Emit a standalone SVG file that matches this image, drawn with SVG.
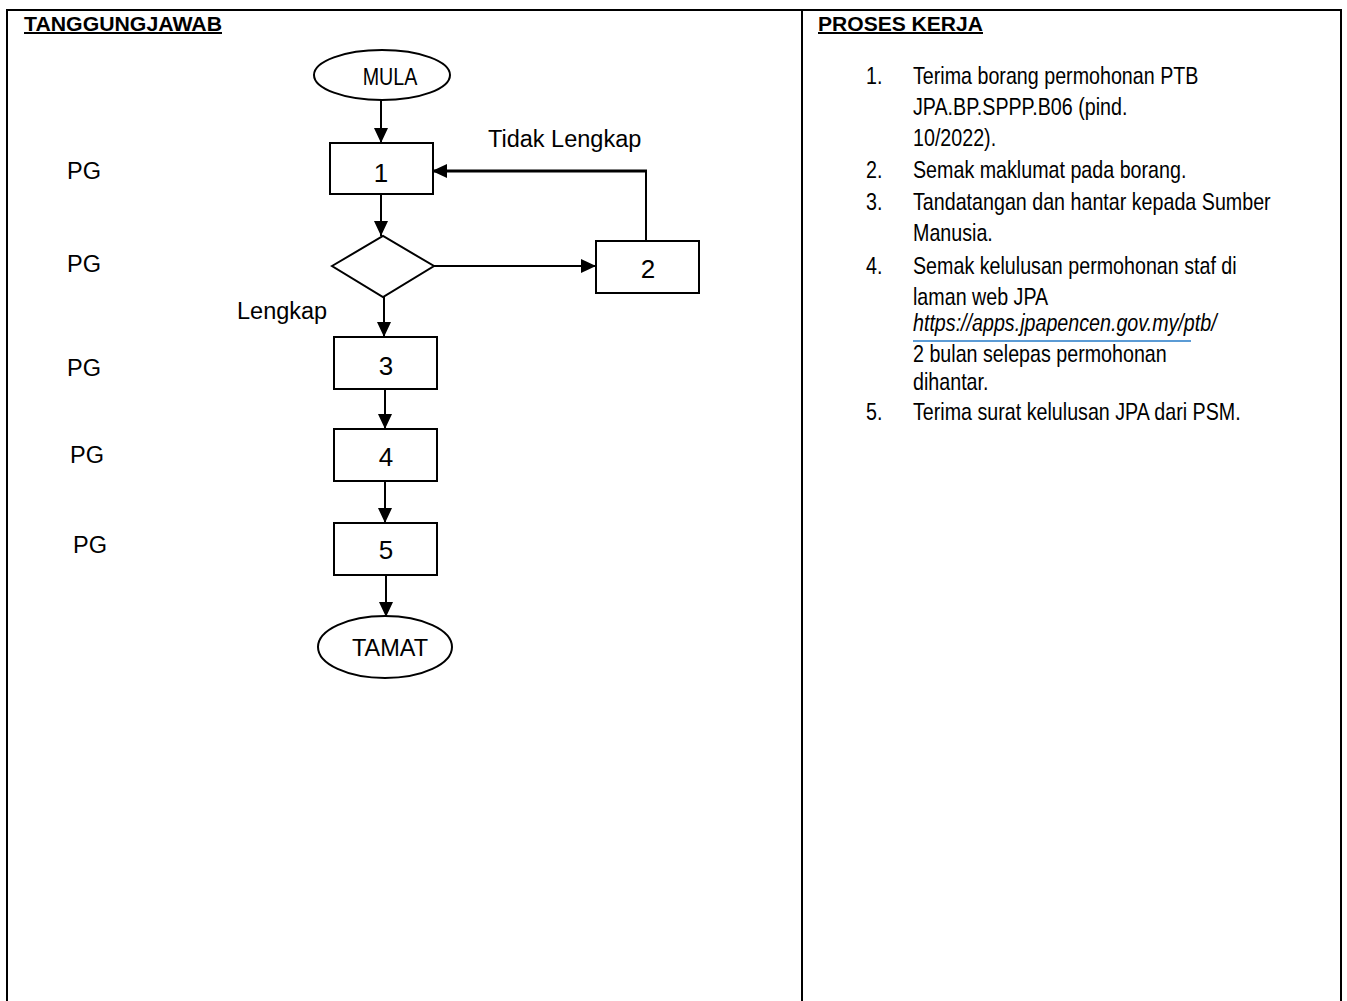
<svg xmlns="http://www.w3.org/2000/svg" width="1347" height="1001" viewBox="0 0 1347 1001">
<style>
  .frame{stroke:#000;stroke-width:2;fill:none}
  .shape{stroke:#000;stroke-width:2;fill:#fff}
  .conn{stroke:#000;stroke-width:2;fill:none}
  .hdr{font-family:"Liberation Sans",Arial,sans-serif;font-weight:bold;font-size:20px;text-decoration:underline;fill:#000}
  .lbl{font-family:"Liberation Sans",Arial,sans-serif;font-size:23.5px;fill:#000}
  .num{font-family:"Liberation Sans",Arial,sans-serif;font-size:26px;fill:#000;text-anchor:middle}
  .narrow{font-family:"Liberation Sans Narrow","Arial Narrow","Liberation Sans",sans-serif;font-size:24px;fill:#000}
  .it{font-style:italic}
</style>
<defs>
  <marker id="ah" markerUnits="userSpaceOnUse" markerWidth="15" markerHeight="14" refX="15" refY="7" orient="auto">
    <path d="M0,0 L15,7 L0,14 z" fill="#000"/>
  </marker>
</defs>
<rect x="0" y="0" width="1347" height="1001" fill="#fff"/>
<g id="table">
  <line class="frame" x1="6" y1="10" x2="1342" y2="10"/>
  <line class="frame" x1="7" y1="10" x2="7" y2="1001"/>
  <line class="frame" x1="802" y1="10" x2="802" y2="1001"/>
  <line class="frame" x1="1341" y1="10" x2="1341" y2="1001"/>
  <text class="hdr" x="24" y="31" textLength="198" lengthAdjust="spacingAndGlyphs">TANGGUNGJAWAB</text>
  <text class="hdr" x="818" y="31" textLength="165" lengthAdjust="spacingAndGlyphs">PROSES KERJA</text>
</g>
<g id="roles">
  <text class="lbl" x="67" y="179">PG</text>
  <text class="lbl" x="67" y="272">PG</text>
  <text class="lbl" x="67" y="376">PG</text>
  <text class="lbl" x="70" y="463">PG</text>
  <text class="lbl" x="73" y="553">PG</text>
</g>
<g id="connectors">
  <line class="conn" x1="381" y1="100" x2="381" y2="143" marker-end="url(#ah)"/>
  <line class="conn" x1="381" y1="194" x2="381" y2="236" marker-end="url(#ah)"/>
  <line class="conn" x1="434" y1="266" x2="596" y2="266" marker-end="url(#ah)"/>
  <path class="conn" d="M646,241 V171"/>
  <line x1="647" y1="171" x2="432" y2="171" stroke="#000" stroke-width="3" marker-end="url(#ah)"/>
  <line class="conn" x1="384" y1="297" x2="384" y2="337" marker-end="url(#ah)"/>
  <line class="conn" x1="385" y1="389" x2="385" y2="429" marker-end="url(#ah)"/>
  <line class="conn" x1="385" y1="481" x2="385" y2="523" marker-end="url(#ah)"/>
  <line class="conn" x1="386" y1="575" x2="386" y2="617" marker-end="url(#ah)"/>
  <text class="lbl" x="488" y="147">Tidak Lengkap</text>
  <text class="lbl" x="237" y="319">Lengkap</text>
</g>
<g id="mula">
  <ellipse class="shape" cx="382" cy="75" rx="68" ry="25"/>
  <text class="narrow" transform="translate(390 85) scale(0.82 1)" text-anchor="middle">MULA</text>
</g>
<g id="n1">
  <rect class="shape" x="330" y="143" width="103" height="51"/>
  <text class="num" x="381" y="182">1</text>
</g>
<g id="decision">
  <polygon class="shape" points="332,266 383,236 434,266 383,297"/>
</g>
<g id="n2">
  <rect class="shape" x="596" y="241" width="103" height="52"/>
  <text class="num" x="648" y="278">2</text>
</g>
<g id="n3">
  <rect class="shape" x="334" y="337" width="103" height="52"/>
  <text class="num" x="386" y="375">3</text>
</g>
<g id="n4">
  <rect class="shape" x="334" y="429" width="103" height="52"/>
  <text class="num" x="386" y="466">4</text>
</g>
<g id="n5">
  <rect class="shape" x="334" y="523" width="103" height="52"/>
  <text class="num" x="386" y="559">5</text>
</g>
<g id="tamat">
  <ellipse class="shape" cx="385" cy="647" rx="67" ry="31"/>
  <text class="lbl" x="390" y="656" text-anchor="middle">TAMAT</text>
</g>
<g id="proses">
  <g transform="translate(866 0) scale(0.82 1)">
    <text class="narrow" x="0" y="84">1.</text>
    <text class="narrow" x="0" y="178">2.</text>
    <text class="narrow" x="0" y="210">3.</text>
    <text class="narrow" x="0" y="274">4.</text>
    <text class="narrow" x="0" y="420">5.</text>
  </g>
  <g transform="translate(913 0) scale(0.82 1)">
    <text class="narrow" x="0" y="84">Terima borang permohonan PTB</text>
    <text class="narrow" x="0" y="115">JPA.BP.SPPP.B06 (pind.</text>
    <text class="narrow" x="0" y="146">10/2022).</text>
    <text class="narrow" x="0" y="178">Semak maklumat pada borang.</text>
    <text class="narrow" x="0" y="210">Tandatangan dan hantar kepada Sumber</text>
    <text class="narrow" x="0" y="241">Manusia.</text>
    <text class="narrow" x="0" y="274">Semak kelulusan permohonan staf di</text>
    <text class="narrow" x="0" y="305">laman web JPA</text>
    <text class="narrow it" x="0" y="331">https://apps.jpapencen.gov.my/ptb/</text>
    <text class="narrow" x="0" y="362">2 bulan selepas permohonan</text>
    <text class="narrow" x="0" y="390">dihantar.</text>
    <text class="narrow" x="0" y="420">Terima surat kelulusan JPA dari PSM.</text>
  </g>
  <line x1="913" y1="341" x2="1191" y2="341" stroke="#5B9BD5" stroke-width="2"/>
</g>
</svg>
